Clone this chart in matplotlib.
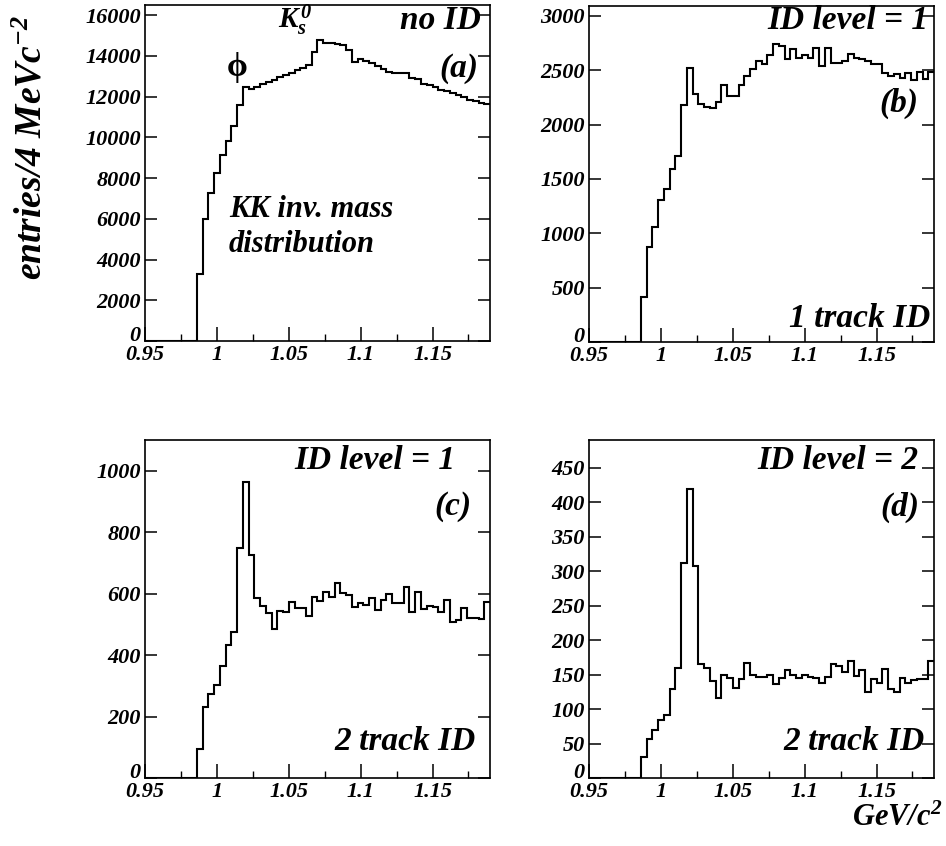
import numpy as np
import matplotlib
matplotlib.use("Agg")
import matplotlib.pyplot as plt
from matplotlib.ticker import FixedLocator, MultipleLocator

plt.rcParams['font.family'] = ['Liberation Serif', 'DejaVu Serif']
plt.rcParams['font.weight'] = 'bold'
plt.rcParams['font.style'] = 'italic'
plt.rcParams['mathtext.fontset'] = 'custom'
plt.rcParams['mathtext.rm'] = 'Liberation Serif:bold:italic'
plt.rcParams['mathtext.it'] = 'Liberation Serif:bold:italic'
plt.rcParams['mathtext.bf'] = 'Liberation Serif:bold:italic'

# ---- data: KK invariant mass, 4 MeV bins from 0.95 to 1.19 GeV/c^2 ----
bin_lo, bin_hi, n_bins = 0.95, 1.19, 60
empty = [0] * 9  # bins below threshold (0.950-0.986)

counts_noid = empty + [
    3300, 6000, 7250, 8250, 9130, 9820, 10550, 11570, 12460, 12390,
    12480, 12630, 12730, 12840, 12950, 13040, 13170, 13300, 13420, 13530,
    14200, 14800, 14650, 14620, 14600, 14540, 14290, 13720, 13830, 13750,
    13640, 13500, 13340, 13230, 13180, 13180, 13180, 12900, 12850, 12620,
    12570, 12490, 12330, 12290, 12160, 12080, 12000, 11830, 11790, 11700,
    11640]

counts_1trk_l1 = empty + [
    415, 870, 1060, 1305, 1410, 1595, 1715, 2175, 2520, 2285,
    2190, 2165, 2150, 2205, 2360, 2260, 2260, 2360, 2445, 2510,
    2585, 2555, 2640, 2745, 2720, 2605, 2690, 2610, 2640, 2615,
    2700, 2540, 2700, 2565, 2570, 2580, 2650, 2610, 2600, 2580,
    2560, 2555, 2475, 2445, 2465, 2430, 2470, 2410, 2480, 2420,
    2485]

counts_2trk_l1 = empty + [
    93, 232, 272, 304, 366, 432, 476, 750, 963, 726,
    587, 561, 538, 485, 544, 541, 574, 553, 552, 528,
    590, 575, 605, 588, 634, 601, 597, 555, 570, 564,
    586, 548, 580, 600, 571, 570, 623, 541, 606, 550,
    560, 555, 540, 578, 507, 514, 553, 521, 520, 517,
    574]

counts_2trk_l2 = empty + [
    30, 56, 70, 84, 92, 129, 160, 311, 419, 307,
    165, 160, 141, 116, 149, 145, 131, 143, 167, 149,
    147, 147, 150, 136, 145, 156, 149, 145, 149, 147,
    145, 138, 147, 165, 162, 154, 169, 148, 156, 124,
    143, 137, 158, 129, 125, 145, 137, 142, 143, 143,
    170]

x_ticks = [0.95, 1.0, 1.05, 1.1, 1.15]
x_ticklabels = ["0.95", "1", "1.05", "1.1", "1.15"]

y_ticks_a = [0, 2000, 4000, 6000, 8000, 10000, 12000, 14000, 16000]
y_ticks_b = [0, 500, 1000, 1500, 2000, 2500, 3000]
y_ticks_c = [0, 200, 400, 600, 800, 1000]
y_ticks_d = [0, 50, 100, 150, 200, 250, 300, 350, 400, 450]

edges = np.linspace(bin_lo, bin_hi, n_bins + 1)

W, H = 946, 846
fig = plt.figure(figsize=(W / 100, H / 100), dpi=100)


def px_axes(x0, x1, y0, y1):
    return fig.add_axes([x0 / W, (H - y1) / H, (x1 - x0) / W, (y1 - y0) / H])


panels = [
    (px_axes(145, 490, 5, 341), counts_noid, y_ticks_a, 16500, 500),
    (px_axes(589, 934, 6, 342), counts_1trk_l1, y_ticks_b, 3090, 100),
    (px_axes(145, 490, 440, 778), counts_2trk_l1, y_ticks_c, 1100, 50),
    (px_axes(589, 934, 440, 778), counts_2trk_l2, y_ticks_d, 490, 10),
]

tick_font = dict(size=16, weight='bold', style='italic')
for ax, counts, yt, ymax, yminor in panels:
    ax.stairs(counts, edges, baseline=None, color='black', lw=1.5)
    ax.set_xlim(bin_lo, bin_hi)
    ax.set_ylim(0, ymax)
    ax.xaxis.set_major_locator(FixedLocator(x_ticks))
    ax.set_xticklabels(x_ticklabels, fontdict=tick_font)
    ax.xaxis.set_minor_locator(MultipleLocator(0.025))
    ax.yaxis.set_major_locator(FixedLocator(yt))
    ylabels = ax.set_yticklabels([str(v) for v in yt], fontdict=tick_font)
    ylabels[0].set_verticalalignment('baseline')
    ax.tick_params(axis='x', which='major', direction='in', length=10, width=1.1, pad=3)
    ax.tick_params(axis='x', which='minor', direction='in', length=5, width=1.0)
    ax.tick_params(axis='y', which='major', direction='in', length=8.5, width=1.1, pad=3,
                   right=True)
    ax.tick_params(axis='y', which='minor', direction='in', length=5, width=1.0, right=True)
    for s in ax.spines.values():
        s.set_linewidth(1.2)

axA, axB, axC, axD = [p[0] for p in panels]
big = dict(fontsize=24, fontweight='bold', fontstyle='italic')

axA.text(0.974, 0.955, "no ID", transform=axA.transAxes, ha='right', va='center', **big)
axA.text(0.965, 0.812, "(a)", transform=axA.transAxes, ha='right', va='center', **big)
axA.text(0.386, 0.932, r"$\mathrm{K_s^{\,0}}$", transform=axA.transAxes, ha='left',
         va='baseline', fontsize=21)
axA.text(0.267, 0.815, "ϕ", transform=axA.transAxes, ha='center', va='center',
         fontsize=24, fontweight='bold', fontstyle='normal')
axA.text(0.243, 0.390, "KK inv. mass", transform=axA.transAxes, ha='left', va='center',
         fontsize=22, fontweight='bold', fontstyle='italic')
axA.text(0.243, 0.286, "distribution", transform=axA.transAxes, ha='left', va='center',
         fontsize=22, fontweight='bold', fontstyle='italic')

axB.text(0.985, 0.958, "ID level = 1", transform=axB.transAxes, ha='right', va='center', **big)
axB.text(0.955, 0.711, "(b)", transform=axB.transAxes, ha='right', va='center', **big)
axB.text(0.988, 0.071, "1 track ID", transform=axB.transAxes, ha='right', va='center', **big)

axC.text(0.899, 0.938, "ID level = 1", transform=axC.transAxes, ha='right', va='center', **big)
axC.text(0.945, 0.802, "(c)", transform=axC.transAxes, ha='right', va='center', **big)
axC.text(0.957, 0.107, "2 track ID", transform=axC.transAxes, ha='right', va='center', **big)

axD.text(0.954, 0.938, "ID level = 2", transform=axD.transAxes, ha='right', va='center', **big)
axD.text(0.959, 0.802, "(d)", transform=axD.transAxes, ha='right', va='center', **big)
axD.text(0.974, 0.107, "2 track ID", transform=axD.transAxes, ha='right', va='center', **big)

fig.text(0.996, 0.033, r"GeV/c$^2$", ha='right', va='center', fontsize=22,
         fontweight='bold', fontstyle='italic')
fig.text(0.034, 0.826, r"entries/4 MeVc$^{-2}$", rotation=90, ha='center', va='center',
         fontsize=27, fontweight='bold', fontstyle='italic')

fig.savefig("out.png", dpi=100)
